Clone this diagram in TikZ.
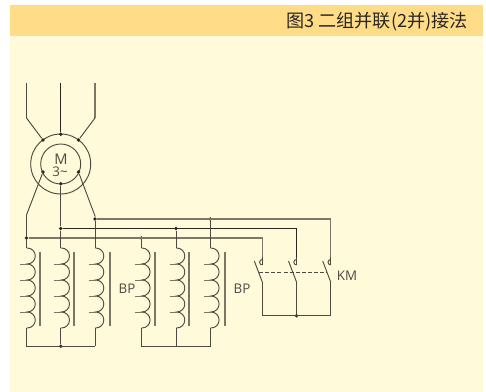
\documentclass[tikz,border=0pt]{standalone}
\usepackage{fontspec}
\setmainfont{Open Sans}
\newfontfamily\cjkfont{Noto Sans CJK SC}
\definecolor{panel}{HTML}{FFFADA}
\definecolor{head}{HTML}{FFDC88}
\definecolor{ink}{HTML}{2A2622}
\definecolor{soft}{HTML}{7C7668}
\definecolor{mid}{HTML}{4E4A42}
\tikzset{
  wire/.style={draw=mid,line width=0.7pt},
  dark/.style={draw=ink,line width=0.65pt},
  softw/.style={draw=soft,line width=1.05pt},
  tailw/.style={draw=soft,line width=0.5pt},
  coremark/.style={draw=soft,line width=1pt},
  jn/.style={circle,fill=ink,inner sep=0pt,minimum size=2.8pt},
  lab/.style={text=mid,inner sep=0pt,font=\fontsize{10}{10}\selectfont}
}
\newcommand{\coilat}[2]{%
  \draw[wire] (#1,248) -- (#1+0.8,248) arc[start angle=-90,end angle=90,radius=8]
    arc[start angle=-90,end angle=90,radius=8]
    arc[start angle=-90,end angle=90,radius=8]
    arc[start angle=-90,end angle=90,radius=8]
    arc[start angle=-90,end angle=90,radius=8] -- (#1,328);
  \foreach \yy in {264,280,296,312} \draw[tailw] (#1-6.5,\yy) -- (#1+1,\yy);
  \draw[coremark] (#2,252) -- (#2,326);
}
\newcommand{\contactat}[1]{%
  \draw[wire] (#1,259.5) arc[start angle=-90,end angle=-270,radius=2.7];
  \draw[wire] (#1,257) -- (#1,265);
  \draw[wire] (#1-8,261) -- (#1,282);
}
\begin{document}
\begin{tikzpicture}[x=0.75pt,y=-0.75pt]
\useasboundingbox (0,0) rectangle (486,392);
\fill[white] (0,0) rectangle (486,392);
\fill[panel] (10,5) rectangle (483,392);
\fill[head] (10,5) rectangle (483,36);
\node[anchor=east,inner sep=0pt,text=ink] (title) at (468,22) {\cjkfont\fontsize{13.6}{15}\selectfont 图3 二组并联(2并)接法};
% motor
\coordinate (mc) at (60.7,164);
\draw[wire] (mc) circle[radius=30];
\draw[wire] (mc) circle[radius=20];
\node[lab,font=\fontsize{11}{11}\selectfont] (mlab) at (61,159) {M};
\node[lab,font=\fontsize{10}{10}\selectfont] (mlab2) at (60,172) {3\char"007E};
\node[jn] (t1) at (43,140) {};
\node[jn] (t2) at (60.7,134.3) {};
\node[jn] (t3) at (78.5,140) {};
\node[jn] (b1) at (43,172) {};
\node[jn] (b2) at (60.7,183.7) {};
\node[jn] (b3) at (78.5,172) {};
\coordinate (i1) at (26.5,83);
\coordinate (i2) at (60.7,83);
\coordinate (i3) at (95,83);
\node[jn] (a1) at (26.5,238) {};
\node[jn] (a2) at (60.7,228.5) {};
\node[jn] (a3) at (95,219) {};
\node[jn] (a4) at (141.3,238) {};
\node[jn] (a5) at (176,228.5) {};
\node[jn] (a6) at (210.3,219) {};
\node[jn] (bb1) at (60.7,346.3) {};
\node[jn] (bb2) at (296.5,315.7) {};
\draw[wire] (i1) -- (26.5,118) -- (t1);
\draw[dark] (i2) -- (t2);
\draw[softw] (i3) -- (95,118);
\draw[wire] (95,118) -- (t3);
\draw[wire] (b1) -- (26.5,215) -- (a1);
\draw[wire] (b3) -- (95,216) -- (a3);
\draw[wire] (b2) -- (a2);
% buses
\draw[softw] (a3) -- (330.7,219) -- (330.7,257.5);
\draw[dark] (a2) -- (296.5,228.5) -- (296.5,257.5);
\draw[softw] (a1) -- (262.3,238) -- (262.3,257.5);
% coil leads
\draw[wire] (a1) -- (26.5,248) (26.5,328) -- (26.5,346.3) -- (95,346.3);
\draw[wire] (a2) -- (60.7,248) (60.7,328) -- (bb1);
\draw[wire] (a3) -- (95,248) (95,328) -- (95,346.3);
\draw[wire] (a4) -- (141.3,248) (141.3,328) -- (141.3,346.3) -- (210.3,346.3) -- (210.3,328);
\draw[wire] (a5) -- (176,248) (176,328) -- (176,346.3);
\draw[wire] (a6) -- (210.3,248);
\coilat{26.5}{40}
\coilat{60.7}{74}
\coilat{95}{110}
\coilat{141.3}{155}
\coilat{176}{189}
\coilat{210.3}{225}
\node[lab] (bp1) at (127,289) {BP};
\node[lab] (bp2) at (242,289) {BP};
\node[lab] (km) at (347,276) {KM};
% switches
\contactat{262.3}
\contactat{296.5}
\contactat{330.7}
\draw[wire,dashed,dash pattern=on 3pt off 1.6pt,line width=0.7pt] (259,272) -- (327,272);
\draw[wire] (262.3,282) -- (262.3,315.7) -- (330.7,315.7) -- (330.7,282);
\draw[wire] (296.5,282) -- (bb2);
\end{tikzpicture}
\end{document}
